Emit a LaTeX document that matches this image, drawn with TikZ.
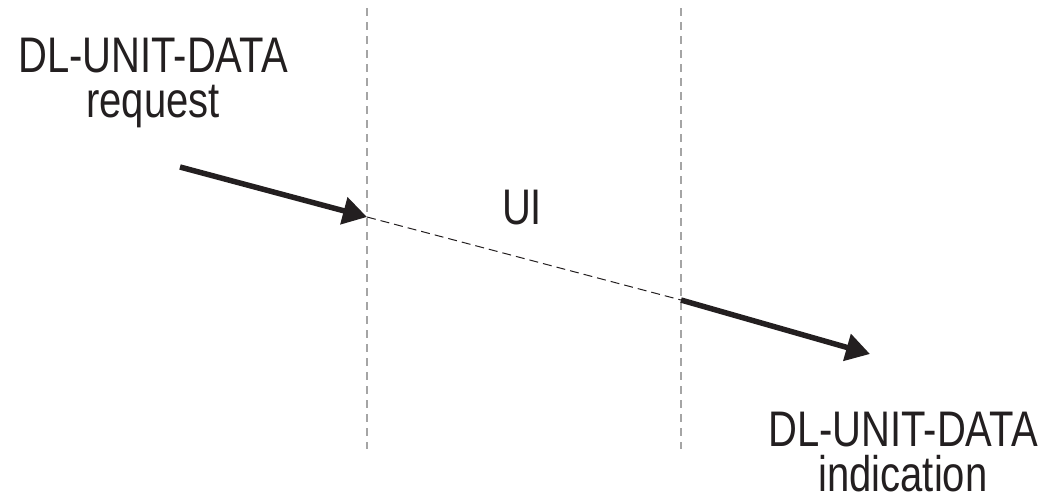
\documentclass[tikz,border=0pt]{standalone}
\usepackage{fontspec}
\setmainfont{Liberation Sans}
\newfontfamily\narrowfont[FakeStretch=0.8]{Liberation Sans}
\usetikzlibrary{arrows.meta}
\definecolor{ink}{RGB}{35,31,32}
\definecolor{sep}{RGB}{165,165,165}
\begin{document}
\begin{tikzpicture}[x=1pt,y=-1pt,
  lbl/.style={inner sep=0pt, text=ink, align=center, font=\narrowfont\fontsize{50}{45}\selectfont},
  sepline/.style={draw=sep, line width=1.2pt, dash pattern=on 8pt off 6pt},
  prim/.style={draw=ink, line width=5.5pt, -{Triangle[length=24pt,width=27pt]}},
  frame/.style={draw=ink, line width=1pt, dash pattern=on 9pt off 5pt}]
\useasboundingbox (0,0) rectangle (1042,499);
% separators
\coordinate (s1t) at (367,8);  \coordinate (s1b) at (367,449);
\coordinate (s2t) at (681,8);  \coordinate (s2b) at (681,449);
\draw[sepline] (s1t) -- (s1b);
\draw[sepline] (s2t) -- (s2b);
% path points
\coordinate (a1s) at (180,167);
\coordinate (p1) at (367,217);
\coordinate (p2) at (681,300);
\coordinate (a2e) at (870,354);
\draw[prim] (a1s) -- (p1);
\draw[frame] (p1) -- (p2);
\draw[prim] (p2) -- (a2e);
% labels
\node[lbl, anchor=north] (req) at (153,37.5) {DL-UNIT-DATA\\request};
\node[lbl, anchor=base] (ui) at (522,224) {UI};
\node[lbl, anchor=north] (ind) at (903,411.5) {DL-UNIT-DATA\\indication};
\end{tikzpicture}
\end{document}
